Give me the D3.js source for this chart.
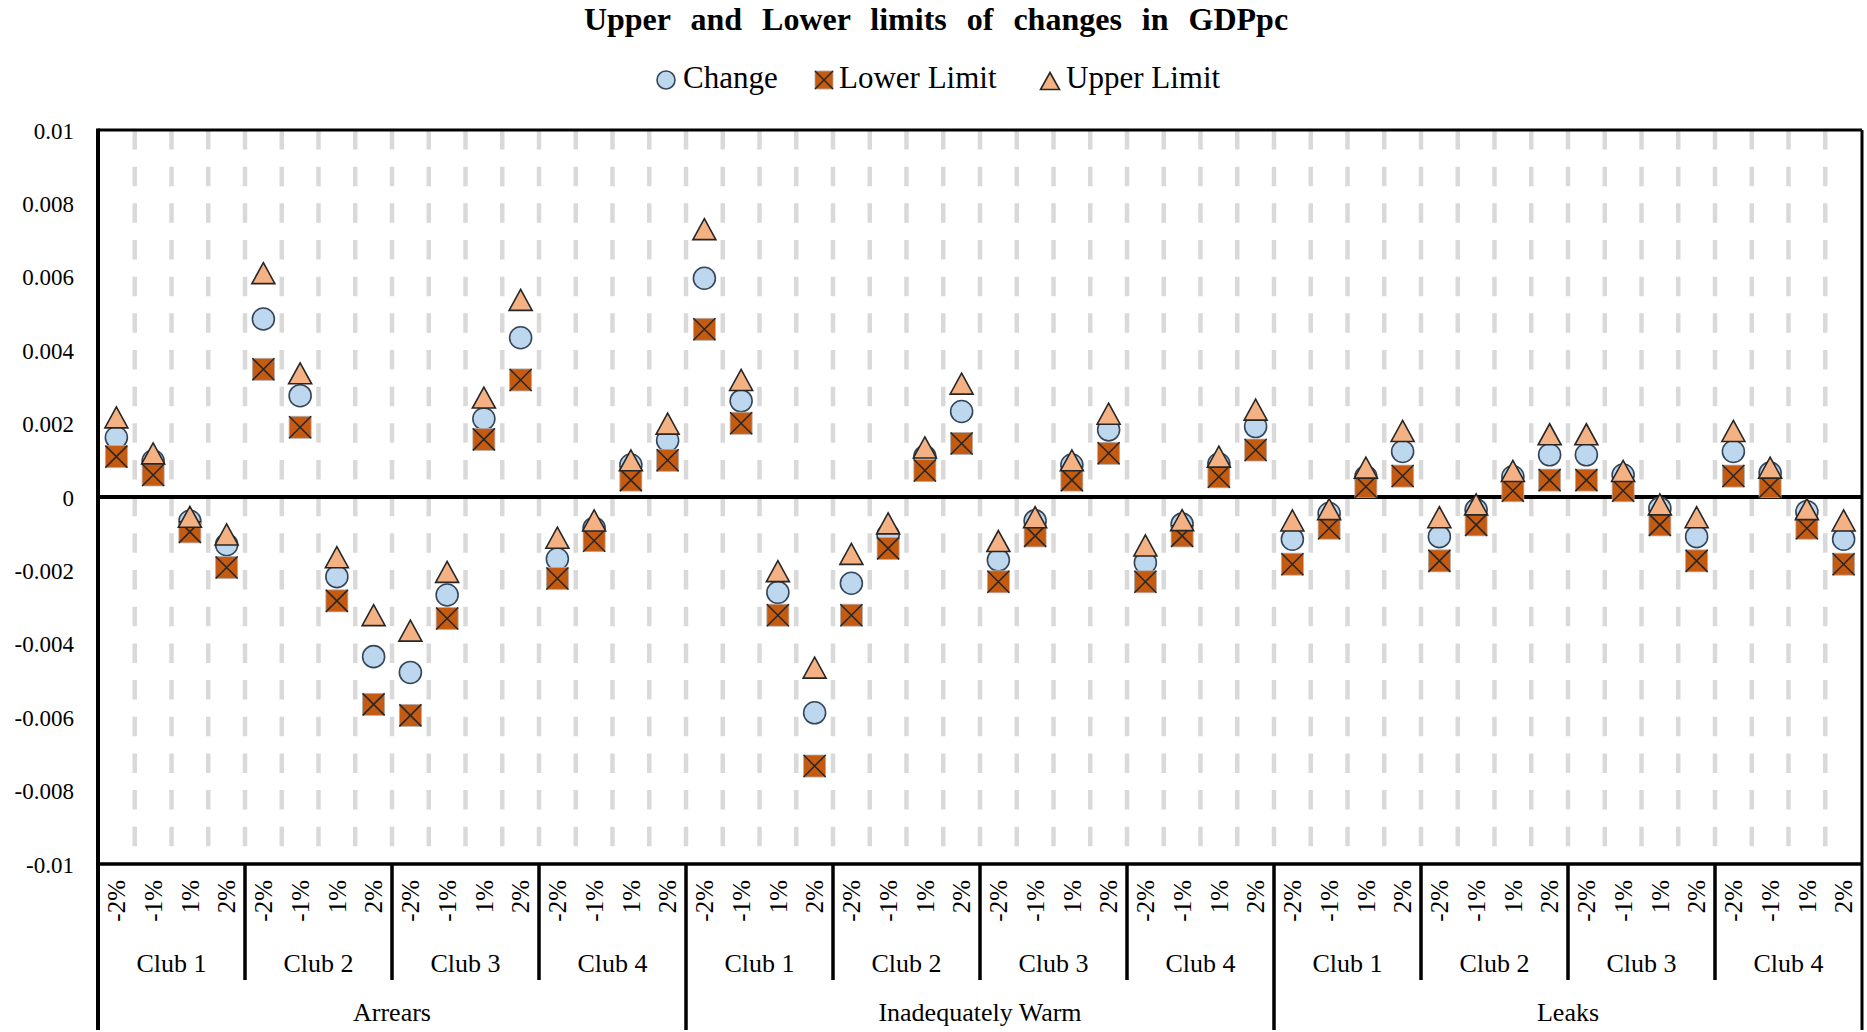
<!DOCTYPE html>
<html><head><meta charset="utf-8">
<script src="https://cdn.jsdelivr.net/npm/d3@7"></script>
<style>
html,body{margin:0;padding:0;background:#fff;}
svg{display:block;}
text{font-family:"Liberation Serif","Times New Roman",serif;fill:#000;}
</style></head>
<body>
<svg id="chart" width="1867" height="1032"></svg>
<script>
// ---------- data ----------
const groups = ["Arrears", "Inadequately Warm", "Leaks"];
const clubs = ["Club 1", "Club 2", "Club 3", "Club 4"];
const shocks = ["-2%", "-1%", "1%", "2%"];
const yTicks = [0.01, 0.008, 0.006, 0.004, 0.002, 0, -0.002, -0.004, -0.006, -0.008, -0.01];
const yTickLabels = ["0.01", "0.008", "0.006", "0.004", "0.002", "0", "-0.002", "-0.004", "-0.006", "-0.008", "-0.01"];
const seriesNames = ["Change", "Lower Limit", "Upper Limit"];

const change = [
  0.00162, 0.00098, -0.00066, -0.0013,
  0.00485, 0.00276, -0.00217, -0.00435,
  -0.00478, -0.00267, 0.00213, 0.00434,
  -0.00169, -0.00085, 0.00087, 0.00154,
  0.00596, 0.00262, -0.0026, -0.00588,
  -0.00235, -0.00104, 0.0011, 0.00233,
  -0.00172, -0.00065, 0.00087, 0.00183,
  -0.00179, -0.00074, 0.0009, 0.00192,
  -0.00115, -0.00045, 0.00055, 0.00124,
  -0.00108, -0.00035, 0.00055, 0.00115,
  0.00115, 0.0006, -0.00031, -0.00108,
  0.00124, 0.00065, -0.0004, -0.00115];
const lowerLimit = [
  0.0011, 0.0006, -0.00095, -0.00192,
  0.00348, 0.0019, -0.00283, -0.00565,
  -0.00595, -0.00331, 0.00157, 0.00319,
  -0.00222, -0.00119, 0.00046, 0.001,
  0.00457, 0.00201, -0.00322, -0.00733,
  -0.00322, -0.0014, 0.00072, 0.00146,
  -0.00231, -0.00106, 0.00046, 0.00119,
  -0.00231, -0.00106, 0.00055, 0.00128,
  -0.00183, -0.00085, 0.00028, 0.00057,
  -0.00174, -0.00076, 0.00017, 0.00046,
  0.00046, 0.00017, -0.00076, -0.00174,
  0.00057, 0.00028, -0.00085, -0.00183];
const upperLimit = [
  0.00217, 0.00119, -0.00054, -0.00102,
  0.0061, 0.00337, -0.00164, -0.00322,
  -0.00364, -0.00204, 0.00271, 0.00537,
  -0.00111, -0.00064, 0.001, 0.002,
  0.0073, 0.00319, -0.00202, -0.00465,
  -0.00155, -0.00072, 0.00135, 0.00309,
  -0.0012, -0.00055, 0.001, 0.00227,
  -0.00132, -0.00063, 0.0011, 0.00238,
  -0.00064, -0.00033, 0.0008, 0.0018,
  -0.00055, -0.0002, 0.00071, 0.00171,
  0.00171, 0.00071, -0.0002, -0.00055,
  0.0018, 0.0008, -0.00033, -0.00064];

// ---------- build table ----------
const rows = [];
groups.forEach((g, gi) => clubs.forEach((c, ci) => shocks.forEach((s, si) => {
  const i = gi * 16 + ci * 4 + si;
  rows.push({key: i, group: g, club: c, shock: s,
    change: change[i], lower: lowerLimit[i], upper: upperLimit[i]});
})));

// ---------- layout ----------
const L = 98, R = 1862, T = 130, B = 864;
const svg = d3.select("#chart");

const x = d3.scaleBand().domain(rows.map(d => d.key)).range([L, R]).padding(0);
const y = d3.scaleLinear().domain([-0.01, 0.01]).range([B, T]);
const bw = x.bandwidth();

const C_FILL = "#bdd7ee", C_STROKE = "#36465a";
const S_FILL = "#c55a11", T_FILL = "#f4b183", DARK = "#262626";

// title
svg.append("text").attr("x", 936).attr("y", 30).attr("text-anchor", "middle")
  .style("font-size", "32px").style("font-weight", "bold").style("word-spacing", "12px")
  .text("Upper and Lower limits of changes in GDPpc");

// vertical dashed gridlines at category boundaries
const bounds = d3.range(1, rows.length).map(k => x(k));
svg.append("g").selectAll("line").data(bounds).join("line")
  .attr("x1", d => d).attr("x2", d => d).attr("y1", T).attr("y2", B)
  .attr("stroke", "#d9d9d9").attr("stroke-width", 4.5)
  .attr("stroke-dasharray", "19.5,17.17");

// y axis labels
const yAxis = d3.axisLeft(y).tickValues(yTicks).tickSize(0).tickPadding(0)
  .tickFormat((d, i) => yTickLabels[i]);
const ga = svg.append("g").attr("transform", `translate(${L - 24},0)`).call(yAxis);
ga.select(".domain").remove();
ga.selectAll("text").style("font-size", "23px").style("font-family", '"Liberation Serif",serif')
  .attr("dy", "0.35em");

// frame lines
const frame = svg.append("g").attr("stroke", "#000");
frame.append("line").attr("x1", L).attr("x2", R).attr("y1", T).attr("y2", T).attr("stroke-width", 3);
frame.append("line").attr("x1", R).attr("x2", R).attr("y1", T).attr("y2", 1030).attr("stroke-width", 3);
frame.append("line").attr("x1", L).attr("x2", L).attr("y1", T - 1.5).attr("y2", 1030).attr("stroke-width", 4);
frame.append("line").attr("x1", L).attr("x2", R).attr("y1", B).attr("y2", B).attr("stroke-width", 3.5);
frame.append("line").attr("x1", L).attr("x2", R).attr("y1", y(0)).attr("y2", y(0)).attr("stroke-width", 4);

// category separators below axis
const clubSeps = d3.range(1, 12).filter(k => k % 4 !== 0).map(k => x(k * 4));
const groupSeps = [x(16), x(32)];
frame.selectAll(".cs").data(clubSeps).join("line").attr("class", "cs")
  .attr("x1", d => d).attr("x2", d => d).attr("y1", B).attr("y2", 980).attr("stroke-width", 3.5);
frame.selectAll(".gs").data(groupSeps).join("line").attr("class", "gs")
  .attr("x1", d => d).attr("x2", d => d).attr("y1", B).attr("y2", 1030).attr("stroke-width", 3.5);

// tick labels (rotated)
svg.append("g").selectAll("text").data(rows).join("text")
  .attr("transform", d => `translate(${x(d.key) + bw / 2},880) rotate(-90)`)
  .attr("text-anchor", "end").attr("dy", "0.35em")
  .style("font-size", "25px").text(d => d.shock);

// club labels
const clubRows = rows.filter((d, i) => i % 4 === 0);
svg.append("g").selectAll("text").data(clubRows).join("text")
  .attr("x", d => x(d.key) + bw * 2).attr("y", 972).attr("text-anchor", "middle")
  .style("font-size", "26px").text(d => d.club);

// group labels
const groupRows = rows.filter((d, i) => i % 16 === 0);
svg.append("g").selectAll("text").data(groupRows).join("text")
  .attr("x", d => x(d.key) + bw * 8).attr("y", 1021).attr("text-anchor", "middle")
  .style("font-size", "26px").text(d => d.group);

// ---------- markers ----------
function drawCircle(g, cx, cy, r) {
  g.append("circle").attr("cx", cx).attr("cy", cy).attr("r", r)
    .attr("fill", C_FILL).attr("stroke", C_STROKE).attr("stroke-width", 1.6);
}
function drawSquare(g, cx, cy, s) {
  const h = s / 2;
  g.append("rect").attr("x", cx - h).attr("y", cy - h).attr("width", s).attr("height", s)
    .attr("fill", S_FILL).attr("stroke", "#b0b0b0").attr("stroke-width", 0.8);
  g.append("path").attr("d", `M${cx - h},${cy - h}L${cx + h},${cy + h}M${cx + h},${cy - h}L${cx - h},${cy + h}`)
    .attr("stroke", DARK).attr("stroke-width", 1.5).attr("fill", "none");
}
function drawTriangle(g, cx, cy, w, h) {
  g.append("path").attr("d", `M${cx},${cy - h / 2}L${cx + w / 2},${cy + h / 2}L${cx - w / 2},${cy + h / 2}Z`)
    .attr("fill", T_FILL).attr("stroke", DARK).attr("stroke-width", 1.6).attr("stroke-linejoin", "miter");
}

const mk = svg.append("g");
rows.forEach(d => drawCircle(mk, x(d.key) + bw / 2, y(d.change), 11));
rows.forEach(d => drawSquare(mk, x(d.key) + bw / 2, y(d.lower), 22));
rows.forEach(d => drawTriangle(mk, x(d.key) + bw / 2, y(d.upper), 23, 21));

// ---------- legend ----------
const lg = svg.append("g");
const legendY = 80;
drawCircle(lg, 666, legendY, 9);
lg.append("text").attr("x", 683).attr("y", 88).style("font-size", "31px").text(seriesNames[0]);
drawSquare(lg, 824, legendY, 18);
lg.append("text").attr("x", 839).attr("y", 88).style("font-size", "31px").text(seriesNames[1]);
drawTriangle(lg, 1050, legendY + 1, 19, 17);
lg.append("text").attr("x", 1066).attr("y", 88).style("font-size", "31px").text(seriesNames[2]);
</script>
</body></html>
